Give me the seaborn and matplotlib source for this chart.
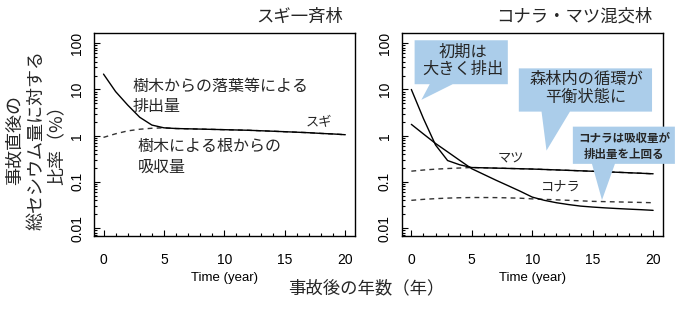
import numpy as np
import pandas as pd
import seaborn as sns
import matplotlib.pyplot as plt
from matplotlib.patches import Polygon
from matplotlib.ticker import LogLocator, MultipleLocator, NullFormatter

# Data (ratio to total Cs just after the accident, %)
years = list(range(21))

sugi_out = [21.5, 9.0, 4.6, 2.5, 1.7, 1.48, 1.43, 1.41, 1.39, 1.37, 1.35,
            1.33, 1.31, 1.28, 1.25, 1.22, 1.19, 1.16, 1.12, 1.09, 1.05]
sugi_in = [0.92, 1.1, 1.27, 1.38, 1.45, 1.48, 1.43, 1.41, 1.39, 1.37, 1.35,
           1.33, 1.31, 1.28, 1.25, 1.22, 1.19, 1.16, 1.12, 1.09, 1.05]

matsu_out = [10.0, 2.35, 0.63, 0.29, 0.235, 0.205, 0.202, 0.199, 0.196, 0.193, 0.19,
             0.186, 0.182, 0.178, 0.174, 0.17, 0.166, 0.162, 0.158, 0.154, 0.15]
matsu_in = [0.171, 0.181, 0.189, 0.195, 0.2, 0.205, 0.202, 0.199, 0.196, 0.193, 0.19,
            0.186, 0.182, 0.178, 0.174, 0.17, 0.166, 0.162, 0.158, 0.154, 0.15]

konara_out = [1.76, 1.09, 0.68, 0.447, 0.293, 0.193, 0.145, 0.109, 0.083, 0.063, 0.047,
              0.040, 0.0355, 0.0324, 0.030, 0.0286, 0.0275, 0.0266, 0.0258, 0.0251, 0.0243]
konara_in = [0.040, 0.042, 0.0435, 0.0447, 0.0455, 0.046, 0.046, 0.0458, 0.0452, 0.0445, 0.043,
             0.042, 0.041, 0.040, 0.039, 0.038, 0.0375, 0.037, 0.0365, 0.036, 0.0355]

xticks = [0, 5, 10, 15, 20]
yticks = [0.01, 0.1, 1, 10, 100]
ytick_labels = ["0.01", "0.1", "1", "10", "100"]

JP = ["Noto Sans CJK JP", "DejaVu Sans"]
BLUE = "#abcdea"

sns.set_theme(style="ticks")
plt.rcParams["font.family"] = ["Liberation Sans", "Noto Sans CJK JP"]

fig = plt.figure(figsize=(6.8, 3.12), dpi=100)
ax1 = fig.add_axes([0.138, 0.245, 0.384, 0.649])
ax2 = fig.add_axes([0.5907, 0.245, 0.384, 0.649])

dash = (0, (3.5, 3))


def draw(ax, out_vals, in_vals):
    sns.lineplot(x=years, y=in_vals, ax=ax, color="#333333", lw=1.0, linestyle=dash)
    sns.lineplot(x=years, y=out_vals, ax=ax, color="black", lw=1.0)


draw(ax1, sugi_out, sugi_in)
draw(ax2, matsu_out, matsu_in)
draw(ax2, konara_out, konara_in)

for ax in (ax1, ax2):
    ax.set_yscale("log")
    ax.set_xlim(-0.8, 20.8)
    ax.set_ylim(10 ** -2.16, 10 ** 2.22)
    ax.set_xticks(xticks)
    ax.set_xticklabels([str(t) for t in xticks])
    ax.set_yticks(yticks)
    ax.set_yticklabels(ytick_labels, rotation=90, va="center")
    ax.xaxis.set_minor_locator(MultipleLocator(1))
    ax.yaxis.set_minor_locator(LogLocator(base=10, subs=np.arange(2, 10)))
    ax.yaxis.set_minor_formatter(NullFormatter())
    ax.tick_params(which="both", direction="in", width=0.8, color="black",
                   labelsize=10, labelcolor="black")
    ax.tick_params(which="major", length=4.5)
    ax.tick_params(which="minor", length=2.2)
    ax.tick_params(axis="x", pad=12.5)
    ax.tick_params(axis="y", pad=7)
    for s in ax.spines.values():
        s.set_visible(True)
        s.set_color("black")
        s.set_linewidth(1.0)
    ax.set_xlabel("Time (year)", fontsize=9.5, labelpad=3.5, color="black")
    ax.set_ylabel("")
    ax.grid(False)

# panel titles
ax1.text(0.954, 1.079, "スギ一斉林", transform=ax1.transAxes, ha="right", va="center",
         fontsize=12.5, family=JP)
ax2.text(0.962, 1.084, "コナラ・マツ混交林", transform=ax2.transAxes, ha="right", va="center",
         fontsize=12.5, family=JP)

# left panel annotations
ax1.text(2.41, 7.07, "樹木からの落葉等による\n排出量", ha="left", va="center",
         fontsize=11.5, family=JP, linespacing=1.3)
ax1.text(2.82, 0.353, "樹木による根からの\n吸収量", ha="left", va="center",
         fontsize=11.5, family=JP, linespacing=1.3)
ax1.text(17.84, 1.9, "スギ", ha="center", va="center", fontsize=9.5, family=JP)

# right panel labels
ax2.text(8.27, 0.316, "マツ", ha="center", va="center", fontsize=9.5, family=JP)
ax2.text(12.37, 0.078, "コナラ", ha="center", va="center", fontsize=9.5, family=JP)


def callout(ax, box, base, tip):
    x0, x1, y0, y1 = box
    verts = [(x0, y1), (x1, y1), (x1, y0), (base[1], y0), tip, (base[0], y0), (x0, y0)]
    ax.add_patch(Polygon(verts, closed=True, facecolor=BLUE, edgecolor="none",
                         clip_on=False, zorder=3))


callout(ax2, (0.27, 7.98, 13.0, 116), (1.52, 3.42), (0.83, 5.97))
ax2.text(4.25, 40.6, "初期は\n大きく排出", ha="center", va="center", fontsize=11.7,
         family=JP, linespacing=1.0, zorder=4)

callout(ax2, (8.89, 19.91, 3.32, 28.6), (10.77, 13.12), (11.18, 0.477))
ax2.text(14.44, 10.5, "森林内の循環が\n平衡状態に", ha="center", va="center", fontsize=11.7,
         family=JP, linespacing=1.0, zorder=4)

callout(ax2, (13.36, 21.8, 0.246, 1.57), (14.94, 16.84), (15.77, 0.0406))
ax2.text(17.59, 0.59, "コナラは吸収量が\n排出量を上回る", ha="center", va="center", fontsize=8.3,
         family=JP, fontweight="bold", linespacing=1.25, zorder=4)

# shared axis titles
fig.text(0.0536, 0.55, "事故直後の\n総セシウム量に対する\n比率（%）", rotation=90,
         ha="center", va="center", fontsize=13, family=JP, linespacing=1.25)
fig.text(0.538, 0.077, "事故後の年数（年）", ha="center", va="center", fontsize=12.5, family=JP)

fig.savefig("out.png", dpi=100, facecolor="white")
